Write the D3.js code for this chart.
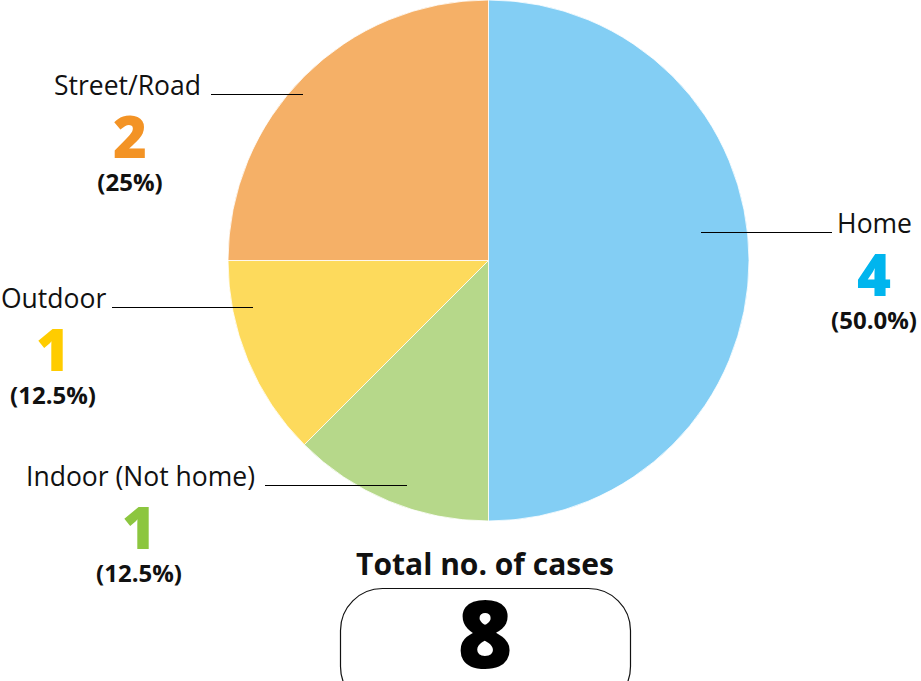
<!DOCTYPE html>
<html>
<head>
<meta charset="utf-8">
<script src="https://cdn.jsdelivr.net/npm/d3@7"></script>
<style>
  body { margin: 0; background: #fff; }
  svg text { font-family: "Open Sans", "DejaVu Sans", sans-serif; }
</style>
</head>
<body>
<div id="chart"></div>
<script>
// data
const categories = ['Home', 'Indoor (Not home)', 'Outdoor', 'Street/Road'];
const counts = [4, 1, 1, 2];
const pctLabels = ['(50.0%)', '(12.5%)', '(12.5%)', '(25%)'];
const sliceColors = ['#83cef4', '#b6d88a', '#fdda5c', '#f5b067'];
const numColors = ['#00b5ee', '#8cc63f', '#ffcc00', '#f39325'];
const totalLabel = 'Total no. of cases';

// label layout (anchor side, x, baseline y of the name, leader line end)
const layout = [
  { anchor: 'end', tx: 912, ty: 233, cx: 874, lineX1: 701, lineX2: 832 },
  { anchor: 'end', tx: 255, ty: 486, cx: 139, lineX1: 265, lineX2: 407 },
  { anchor: 'start', tx: 1, ty: 308, cx: 53, lineX1: 112, lineX2: 253 },
  { anchor: 'end', tx: 201, ty: 95, cx: 130, lineX1: 211, lineX2: 303 }
];

const width = 921, height = 681;
const cx = 488.5, cy = 260.5, r = 260.5;

const svg = d3.select('#chart').append('svg')
  .attr('width', width)
  .attr('height', height);

const pie = d3.pie().sort(null).value(d => d)(counts);
const arc = d3.arc().innerRadius(0).outerRadius(r);

svg.append('g')
  .attr('transform', `translate(${cx},${cy})`)
  .selectAll('path')
  .data(pie)
  .enter()
  .append('path')
  .attr('d', arc)
  .attr('fill', (d, i) => sliceColors[i])
  .attr('stroke', '#fff')
  .attr('stroke-width', 0.8);

const labels = svg.selectAll('.lbl')
  .data(categories)
  .enter()
  .append('g')
  .attr('class', 'lbl');

labels.append('line')
  .attr('x1', (d, i) => layout[i].lineX1)
  .attr('x2', (d, i) => layout[i].lineX2)
  .attr('y1', (d, i) => layout[i].ty - 0.5)
  .attr('y2', (d, i) => layout[i].ty - 0.5)
  .attr('stroke', '#000')
  .attr('stroke-width', 1);

labels.append('text')
  .attr('x', (d, i) => layout[i].tx)
  .attr('y', (d, i) => layout[i].ty)
  .attr('text-anchor', (d, i) => layout[i].anchor)
  .attr('font-size', 26.5)
  .attr('fill', '#111')
  .text(d => d);

labels.append('text')
  .attr('x', (d, i) => layout[i].cx)
  .attr('y', (d, i) => layout[i].ty + 63)
  .attr('text-anchor', 'middle')
  .attr('font-size', 58)
  .attr('font-weight', 800)
  .attr('fill', (d, i) => numColors[i])
  .text((d, i) => counts[i]);

labels.append('text')
  .attr('x', (d, i) => layout[i].cx)
  .attr('y', (d, i) => layout[i].ty + 96)
  .attr('text-anchor', 'middle')
  .attr('font-size', 24)
  .attr('font-weight', 700)
  .attr('fill', '#111')
  .text((d, i) => pctLabels[i]);

// total box
svg.append('text')
  .attr('x', 485)
  .attr('y', 575)
  .attr('text-anchor', 'middle')
  .attr('font-size', 30)
  .attr('font-weight', 700)
  .attr('fill', '#111')
  .text(totalLabel);

svg.append('rect')
  .attr('x', 340.5)
  .attr('y', 588.5)
  .attr('width', 290)
  .attr('height', 120)
  .attr('rx', 42)
  .attr('fill', 'none')
  .attr('stroke', '#111')
  .attr('stroke-width', 1.2);

svg.append('text')
  .attr('x', 485)
  .attr('y', 668)
  .attr('text-anchor', 'middle')
  .attr('font-size', 94)
  .attr('font-weight', 800)
  .attr('fill', '#000')
  .text(d3.sum(counts));
</script>
</body>
</html>
